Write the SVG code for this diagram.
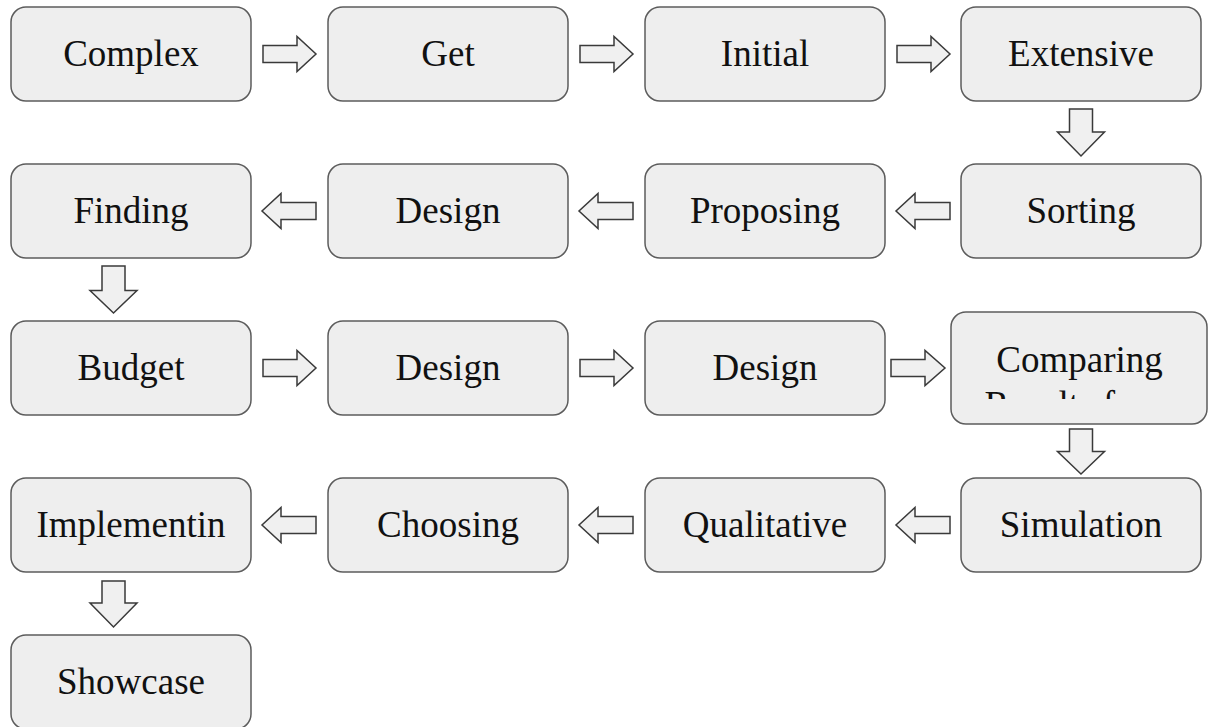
<svg xmlns="http://www.w3.org/2000/svg" width="1208" height="727" viewBox="0 0 1208 727">
<style>
.box{fill:#eeeeee;stroke:#5c5c5c;stroke-width:1.5}
.lbl{font-family:"Liberation Serif","Times New Roman",serif;font-size:37px;fill:#111;text-anchor:middle}
.arr{fill:#f0f0f0;stroke:#3a3a3a;stroke-width:1.5;stroke-linejoin:miter}
</style>
<defs>
<clipPath id="cmpClip"><rect x="951" y="312" width="257" height="87"/></clipPath>
</defs>
<rect width="1208" height="727" fill="#ffffff"/>
<g id="n1"><rect class="box" x="11" y="7" width="240" height="94" rx="15"/><text class="lbl" x="131" y="66">Complex</text></g>
<g id="n2"><rect class="box" x="328" y="7" width="240" height="94" rx="15"/><text class="lbl" x="448" y="66">Get</text></g>
<g id="n3"><rect class="box" x="645" y="7" width="240" height="94" rx="15"/><text class="lbl" x="765" y="66">Initial</text></g>
<g id="n4"><rect class="box" x="961" y="7" width="240" height="94" rx="15"/><text class="lbl" x="1081" y="66">Extensive</text></g>
<g id="n5"><rect class="box" x="961" y="164" width="240" height="94" rx="15"/><text class="lbl" x="1081" y="223">Sorting</text></g>
<g id="n6"><rect class="box" x="645" y="164" width="240" height="94" rx="15"/><text class="lbl" x="765" y="223">Proposing</text></g>
<g id="n7"><rect class="box" x="328" y="164" width="240" height="94" rx="15"/><text class="lbl" x="448" y="223">Design</text></g>
<g id="n8"><rect class="box" x="11" y="164" width="240" height="94" rx="15"/><text class="lbl" x="131" y="223">Finding</text></g>
<g id="n9"><rect class="box" x="11" y="321" width="240" height="94" rx="15"/><text class="lbl" x="131" y="380">Budget</text></g>
<g id="n10"><rect class="box" x="328" y="321" width="240" height="94" rx="15"/><text class="lbl" x="448" y="380">Design</text></g>
<g id="n11"><rect class="box" x="645" y="321" width="240" height="94" rx="15"/><text class="lbl" x="765" y="380">Design</text></g>
<g id="n12"><rect class="box" x="951" y="312" width="256" height="112" rx="15"/><g clip-path="url(#cmpClip)"><text class="lbl" x="1079.5" y="372">Comparing</text><text class="lbl" x="1079.5" y="417">Results from</text></g></g>
<g id="n13"><rect class="box" x="961" y="478" width="240" height="94" rx="15"/><text class="lbl" x="1081" y="537">Simulation</text></g>
<g id="n14"><rect class="box" x="645" y="478" width="240" height="94" rx="15"/><text class="lbl" x="765" y="537">Qualitative</text></g>
<g id="n15"><rect class="box" x="328" y="478" width="240" height="94" rx="15"/><text class="lbl" x="448" y="537">Choosing</text></g>
<g id="n16"><rect class="box" x="11" y="478" width="240" height="94" rx="15"/><text class="lbl" x="131" y="537">Implementin</text></g>
<g id="n17"><rect class="box" x="11" y="635" width="240" height="94" rx="15"/><text class="lbl" x="131" y="694">Showcase</text></g>
<g id="connectors">
<polygon class="arr" points="263,45.5 297,45.5 297,36.5 316,54 297,71.5 297,62.5 263,62.5"/>
<polygon class="arr" points="580,45.5 614,45.5 614,36.5 633,54 614,71.5 614,62.5 580,62.5"/>
<polygon class="arr" points="897,45.5 931,45.5 931,36.5 950,54 931,71.5 931,62.5 897,62.5"/>
<polygon class="arr" points="1069.5,109 1092.5,109 1092.5,132 1104.5,132 1081,156 1057.5,132 1069.5,132"/>
<polygon class="arr" points="950,202.5 915,202.5 915,193.5 896,211 915,228.5 915,219.5 950,219.5"/>
<polygon class="arr" points="633,202.5 598,202.5 598,193.5 579,211 598,228.5 598,219.5 633,219.5"/>
<polygon class="arr" points="316,202.5 281,202.5 281,193.5 262,211 281,228.5 281,219.5 316,219.5"/>
<polygon class="arr" points="102,266 125,266 125,290.5 137,290.5 113.5,313 90,290.5 102,290.5"/>
<polygon class="arr" points="263,359.5 297,359.5 297,350.5 316,368 297,385.5 297,376.5 263,376.5"/>
<polygon class="arr" points="580,359.5 614,359.5 614,350.5 633,368 614,385.5 614,376.5 580,376.5"/>
<polygon class="arr" points="891,359.5 925,359.5 925,350.5 945,368 925,385.5 925,376.5 891,376.5"/>
<polygon class="arr" points="1069.5,429 1092.5,429 1092.5,451.5 1104.5,451.5 1081,474 1057.5,451.5 1069.5,451.5"/>
<polygon class="arr" points="950,516.5 915,516.5 915,507.5 896,525 915,542.5 915,533.5 950,533.5"/>
<polygon class="arr" points="633,516.5 598,516.5 598,507.5 579,525 598,542.5 598,533.5 633,533.5"/>
<polygon class="arr" points="316,516.5 281,516.5 281,507.5 262,525 281,542.5 281,533.5 316,533.5"/>
<polygon class="arr" points="102,581 125,581 125,603 137,603 113.5,627 90,603 102,603"/>
</g>
</svg>
